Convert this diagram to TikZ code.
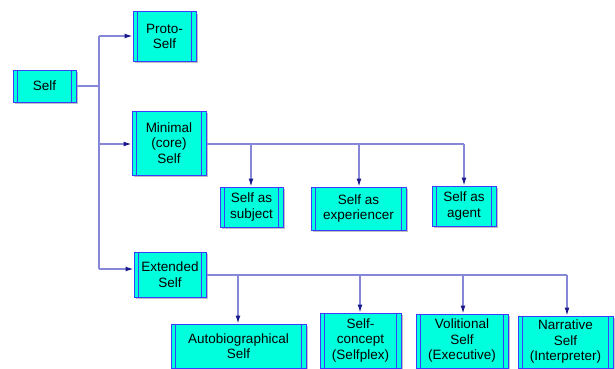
\documentclass[tikz,border=0pt]{standalone}
\usepackage{fontspec}
\setmainfont{Liberation Sans}
\usetikzlibrary{arrows.meta,shadows}
\definecolor{boxfill}{RGB}{0,255,221}
\definecolor{boxline}{RGB}{60,60,255}
\definecolor{conn}{RGB}{135,135,215}
\definecolor{tipc}{RGB}{25,25,140}
\tikzset{
  sbox/.style={draw=boxline, line width=1pt, fill=boxfill, inner sep=0pt,
    align=center, font=\fontsize{13.5}{15.5}\selectfont,
    drop shadow={shadow xshift=2pt, shadow yshift=-2pt, fill=gray!50, opacity=1},
    path picture={
      \draw[boxline, line width=0.8pt]
        ([xshift=4.5pt]path picture bounding box.north west) -- ([xshift=4.5pt]path picture bounding box.south west)
        ([xshift=-4.5pt]path picture bounding box.north east) -- ([xshift=-4.5pt]path picture bounding box.south east);
    }},
  conline/.style={draw=conn, line width=1.2pt},
  conarrow/.style={conline, -{Latex[length=8pt,width=5pt,color=tipc]}}
}
\newcommand{\bx}[6]{% name, cx, cy, w, h, text
  \node[sbox, minimum width=#4pt, minimum height=#5pt] (#1) at (#2,#3) {#6};}
\begin{document}
\begin{tikzpicture}[x=1pt,y=-1pt]
\useasboundingbox (0,0) rectangle (615,369);
\bx{self}{44.5}{86}{63}{32}{Self}
\bx{proto}{164.5}{36.5}{63}{49}{Proto-\\Self}
\bx{minimal}{169}{143}{74}{64}{Minimal\\(core)\\Self}
\bx{extended}{170}{274.5}{72}{45}{Extended\\Self}
\bx{subject}{251.5}{207}{63}{40}{Self as\\subject}
\bx{exper}{358.5}{208.5}{95}{43}{Self as\\experiencer}
\bx{agent}{464}{206}{64}{40}{Self as\\agent}
\bx{autobio}{238.5}{346}{135}{44}{Autobiographical\\Self}
\bx{concept}{360.5}{340.5}{81}{55}{Self-\\concept\\(Selfplex)}
\bx{volit}{462}{341}{92}{54}{Volitional\\Self\\(Executive)}
\bx{narr}{565.5}{342}{95}{52}{Narrative\\Self\\(Interpreter)}

\coordinate (jself) at (99,86);
\coordinate (jtop) at (99,36);
\coordinate (jmid) at (99,144);
\coordinate (jbot) at (99,269);
\coordinate (m1) at (251,144);
\coordinate (m2) at (359,144);
\coordinate (m3) at (464,144);
\coordinate (e1) at (238,275);
\coordinate (e2) at (360,275);
\coordinate (e3) at (463,275);
\coordinate (e4) at (567,275);

\draw[conline] (self.east |- jself) -- (jself);
\draw[conline] (jtop) -- (jbot);
\draw[conarrow] (jtop) -- (jtop -| proto.west);
\draw[conarrow] (jmid) -- (jmid -| minimal.west);
\draw[conarrow] (jbot) -- (jbot -| extended.west);

\draw[conline] (m1 -| minimal.east) -- (m3);
\draw[conarrow] (m1) -- (m1 |- subject.north);
\draw[conarrow] (m2) -- (m2 |- exper.north);
\draw[conarrow] (m3) -- (m3 |- agent.north);

\draw[conline] (e1 -| extended.east) -- (e4);
\draw[conarrow] (e1) -- (e1 |- autobio.north);
\draw[conarrow] (e2) -- (e2 |- concept.north);
\draw[conarrow] (e3) -- (e3 |- volit.north);
\draw[conarrow] (e4) -- (e4 |- narr.north);
\end{tikzpicture}
\end{document}
